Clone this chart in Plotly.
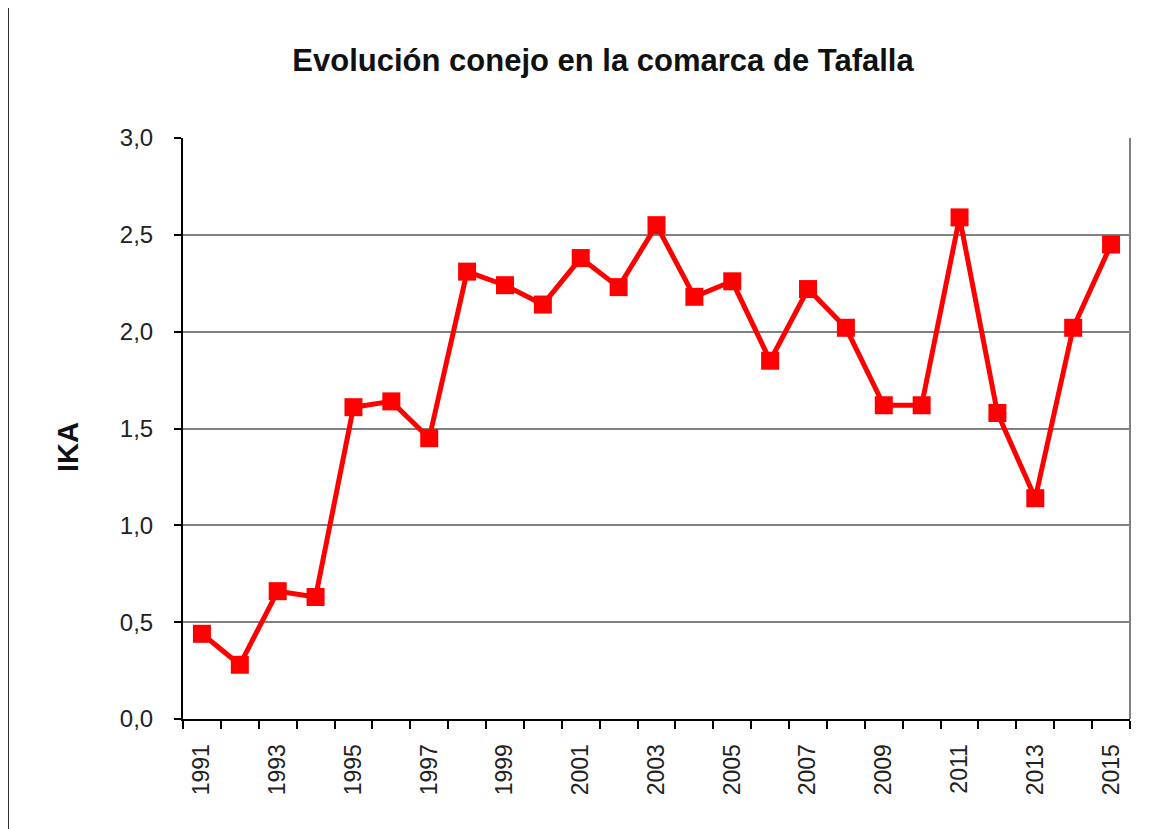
import plotly.graph_objects as go

years = [str(y) for y in range(1991, 2016)]
ika = [0.44, 0.28, 0.66, 0.63, 1.61, 1.64, 1.45, 2.31, 2.24, 2.14, 2.38, 2.23, 2.55,
       2.18, 2.26, 1.85, 2.22, 2.02, 1.62, 1.62, 2.59, 1.58, 1.14, 2.02, 2.45]
title_text = "Evolución conejo en la comarca de Tafalla"
y_title = "IKA"
label_years = years[::2]

xpos = list(range(len(years)))

# page body has an 8px margin; offset everything by it
OFF = 8
W, H = 1163 - OFF, 829 - OFF
L, T = 183 - OFF, 138 - OFF
pw, ph = 947, 581
R, B = W - L - pw, H - T - ph

fig = go.Figure()
fig.add_trace(go.Scatter(
    x=xpos, y=ika, mode="lines+markers",
    line=dict(color="#ff0000", width=5),
    marker=dict(symbol="square", size=18, color="#ff0000"),
    showlegend=False, hoverinfo="skip"))

fig.update_layout(
    width=W, height=H,
    margin=dict(l=L, r=R, t=T, b=B, pad=0),
    paper_bgcolor="white", plot_bgcolor="white",
    separators=",.",
    font=dict(family="Liberation Sans, Arial, sans-serif", color="#222222"),
    title=dict(text="<b>" + title_text + "</b>", x=(603 - OFF) / W, xanchor="center",
               xref="container", y=1 - (60 - OFF) / H, yanchor="middle", yref="container",
               font=dict(size=31, color="#111111", family="Liberation Sans, Arial, sans-serif")),
    xaxis=dict(
        range=[-0.5, len(years) - 0.5], tickmode="array",
        tickvals=xpos[::2], ticktext=label_years, tickangle=-90,
        ticks="", showgrid=False, zeroline=False,
        showline=True, linecolor="#000000", linewidth=2,
        tickfont=dict(size=23, color="#222222"), ticklabelstandoff=14,
        minor=dict(tickmode="linear", tick0=-0.5, dtick=1, ticks="outside",
                   ticklen=8, tickwidth=2, tickcolor="#000000", showgrid=False),
    ),
    yaxis=dict(
        range=[0, 3], tickmode="linear", tick0=0, dtick=0.5, tickformat=".1f",
        ticks="outside", ticklen=7, tickwidth=2, tickcolor="#000000",
        showgrid=True, gridcolor="#808080", gridwidth=1.5, zeroline=False,
        showline=True, linecolor="#000000", linewidth=2,
        tickfont=dict(size=24, color="#222222"), ticklabelstandoff=16,
    ),
)

# right border of plot area (grey)
fig.add_shape(type="line", xref="paper", yref="paper", x0=1, x1=1, y0=0, y1=1,
              line=dict(color="#808080", width=2))
# page left border line
fig.add_shape(type="line", xref="paper", yref="paper",
              x0=(8 - 183) / pw, x1=(8 - 183) / pw, y0=-(B + 5) / ph, y1=(ph + T + 5) / ph,
              line=dict(color="#333333", width=2))

fig.add_annotation(text="<b>" + y_title + "</b>", xref="paper", yref="paper",
                   x=(68 - 183) / pw, y=(719 - 447) / ph, textangle=-90,
                   showarrow=False, xanchor="center", yanchor="middle",
                   font=dict(size=29, color="#111111"))

fig.write_html("out.html")
